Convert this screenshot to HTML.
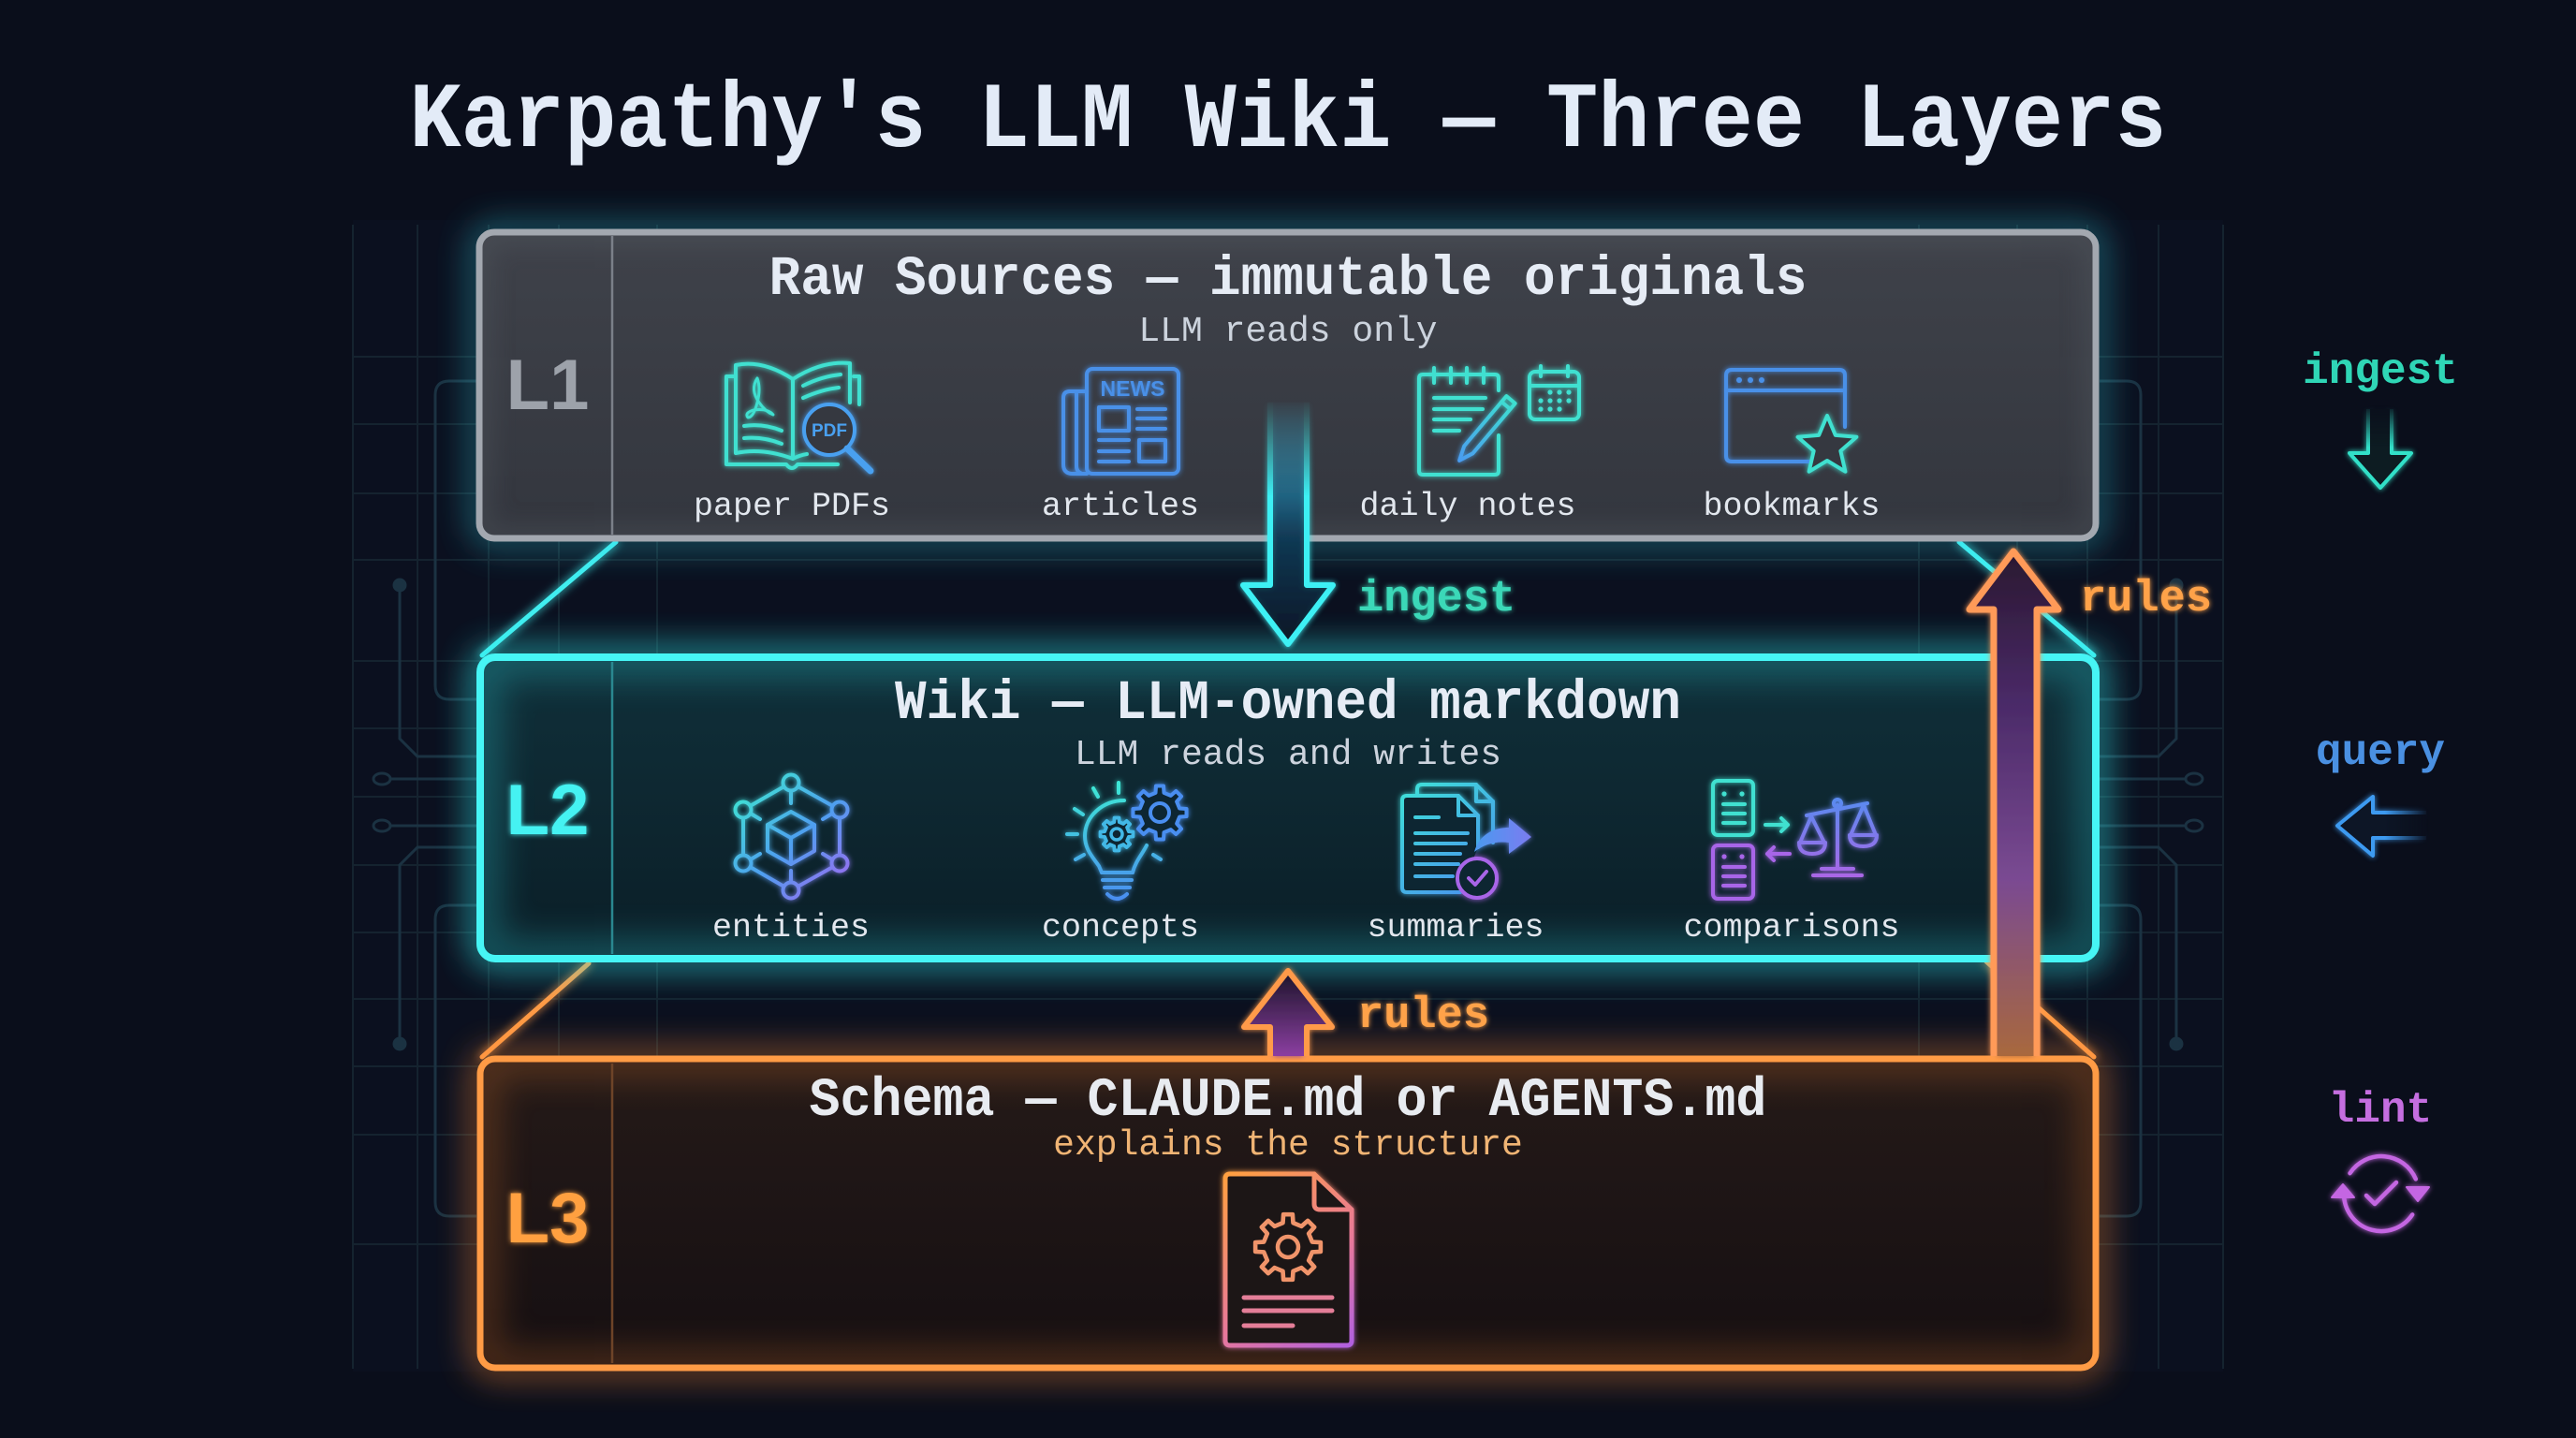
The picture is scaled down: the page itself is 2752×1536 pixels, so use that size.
<!DOCTYPE html>
<html><head><meta charset="utf-8">
<style>
html,body{margin:0;padding:0;background:#0a0e1b;}
svg{display:block}
</style></head><body>
<svg width="2752" height="1536" viewBox="0 0 2752 1536" xmlns="http://www.w3.org/2000/svg" xmlns:xlink="http://www.w3.org/1999/xlink">
<defs>
 <filter id="b12" filterUnits="userSpaceOnUse" x="0" y="0" width="2752" height="1536"><feGaussianBlur stdDeviation="12"/></filter>
 <filter id="b18" filterUnits="userSpaceOnUse" x="0" y="0" width="2752" height="1536"><feGaussianBlur stdDeviation="18"/></filter>
 <filter id="glow" filterUnits="userSpaceOnUse" x="0" y="0" width="2752" height="1536"><feGaussianBlur in="SourceGraphic" stdDeviation="5" result="b"/><feMerge><feMergeNode in="b"/><feMergeNode in="SourceGraphic"/></feMerge></filter>
 <filter id="glowS" filterUnits="userSpaceOnUse" x="0" y="0" width="2752" height="1536"><feGaussianBlur in="SourceGraphic" stdDeviation="3" result="b"/><feMerge><feMergeNode in="b"/><feMergeNode in="SourceGraphic"/></feMerge></filter>

 <linearGradient id="fL1" x1="0" y1="0" x2="0" y2="1"><stop offset="0" stop-color="#3f424a"/><stop offset="1" stop-color="#33363e"/></linearGradient>
 <linearGradient id="fL2" x1="0" y1="0" x2="0" y2="1"><stop offset="0" stop-color="#10303a"/><stop offset="1" stop-color="#0b1e27"/></linearGradient>
 <linearGradient id="fL3" x1="0" y1="0" x2="0" y2="1"><stop offset="0" stop-color="#251a18"/><stop offset="1" stop-color="#150f12"/></linearGradient>

 <clipPath id="c1"><rect x="512" y="248" width="1727" height="327" rx="16"/></clipPath>
 <clipPath id="c2"><rect x="513" y="702" width="1726" height="322" rx="16"/></clipPath>
 <clipPath id="c3"><rect x="513" y="1131" width="1726" height="330" rx="16"/></clipPath>

 <linearGradient id="gE" gradientUnits="userSpaceOnUse" x1="790" y1="836" x2="900" y2="951"><stop offset="0" stop-color="#3ee6d0"/><stop offset="0.55" stop-color="#4f9ef0"/><stop offset="1" stop-color="#9b6cf0"/></linearGradient>
 <linearGradient id="gC" gradientUnits="userSpaceOnUse" x1="0" y1="840" x2="0" y2="960"><stop offset="0" stop-color="#3ee6d6"/><stop offset="1" stop-color="#4a8ef0"/></linearGradient>
 <linearGradient id="gS" gradientUnits="userSpaceOnUse" x1="1500" y1="840" x2="1600" y2="955"><stop offset="0" stop-color="#3ee0d8"/><stop offset="1" stop-color="#4a8af0"/></linearGradient>
 <linearGradient id="gArr" gradientUnits="userSpaceOnUse" x1="1575" y1="0" x2="1635" y2="0"><stop offset="0" stop-color="#4a9af0"/><stop offset="1" stop-color="#7a7cf0"/></linearGradient>
 <linearGradient id="gSc" gradientUnits="userSpaceOnUse" x1="0" y1="855" x2="0" y2="936"><stop offset="0" stop-color="#5a8af0"/><stop offset="1" stop-color="#aa66e6"/></linearGradient>
 <linearGradient id="gDoc" gradientUnits="userSpaceOnUse" x1="1309" y1="1254" x2="1444" y2="1437"><stop offset="0" stop-color="#ffa040"/><stop offset="0.6" stop-color="#e8789a"/><stop offset="1" stop-color="#b060e0"/></linearGradient>
 <linearGradient id="gPen" gradientUnits="userSpaceOnUse" x1="1614" y1="427" x2="1559" y2="492"><stop offset="0" stop-color="#3ee0d0"/><stop offset="1" stop-color="#4a9cf0"/></linearGradient>

 <linearGradient id="fIng" gradientUnits="userSpaceOnUse" x1="0" y1="430" x2="0" y2="690"><stop offset="0" stop-color="#3cc8f0" stop-opacity="0.55"/><stop offset="0.55" stop-color="#123a55" stop-opacity="0.9"/><stop offset="1" stop-color="#0a1424"/></linearGradient>
 <linearGradient id="fRs" gradientUnits="userSpaceOnUse" x1="0" y1="1037" x2="0" y2="1127"><stop offset="0" stop-color="#1a1428"/><stop offset="1" stop-color="#8a3ea0"/></linearGradient>
 <linearGradient id="fRb" gradientUnits="userSpaceOnUse" x1="0" y1="589" x2="0" y2="1127"><stop offset="0" stop-color="#2a1830"/><stop offset="0.3" stop-color="#4a2a68"/><stop offset="0.65" stop-color="#7a4a92"/><stop offset="1" stop-color="#a8683e"/></linearGradient>

 <linearGradient id="mgI" gradientUnits="userSpaceOnUse" x1="0" y1="425" x2="0" y2="530"><stop offset="0" stop-color="#000"/><stop offset="1" stop-color="#fff"/></linearGradient>
 <mask id="fadeI" maskUnits="userSpaceOnUse" x="0" y="0" width="2752" height="1536"><rect x="1290" y="400" width="180" height="320" fill="url(#mgI)"/></mask>
 <linearGradient id="mgL1" gradientUnits="userSpaceOnUse" x1="0" y1="432" x2="0" y2="478"><stop offset="0" stop-color="#000"/><stop offset="1" stop-color="#fff"/></linearGradient>
 <mask id="fadeL1" maskUnits="userSpaceOnUse" x="0" y="0" width="2752" height="1536"><rect x="2480" y="420" width="120" height="120" fill="url(#mgL1)"/></mask>
 <linearGradient id="mgL2" gradientUnits="userSpaceOnUse" x1="2595" y1="0" x2="2548" y2="0"><stop offset="0" stop-color="#000"/><stop offset="1" stop-color="#fff"/></linearGradient>
 <mask id="fadeL2" maskUnits="userSpaceOnUse" x="0" y="0" width="2752" height="1536"><rect x="2480" y="830" width="130" height="100" fill="url(#mgL2)"/></mask>

 <path id="gear" d="M23.47,-4.99 L31.69,-4.45 L31.69,4.45 L23.47,4.99 L20.13,13.07 L25.56,19.26 L19.26,25.56 L13.07,20.13 L4.99,23.47 L4.45,31.69 L-4.45,31.69 L-4.99,23.47 L-13.07,20.13 L-19.26,25.56 L-25.56,19.26 L-20.13,13.07 L-23.47,4.99 L-31.69,4.45 L-31.69,-4.45 L-23.47,-4.99 L-20.13,-13.07 L-25.56,-19.26 L-19.26,-25.56 L-13.07,-20.13 L-4.99,-23.47 L-4.45,-31.69 L4.45,-31.69 L4.99,-23.47 L13.07,-20.13 L19.26,-25.56 L25.56,-19.26 L20.13,-13.07 Z"/>

 <g id="circ" stroke="#1b3242" stroke-width="3" fill="none">
  <path d="M509,407 L480,407 Q465,407 465,422 L465,732 Q465,747 480,747 L509,747"/>
  <path d="M509,967 L480,967 Q465,967 465,982 L465,1284 Q465,1299 480,1299 L509,1299"/>
  <path d="M427,625 L427,789 L446,808 L509,808"/>
  <path d="M509,905 L446,905 L427,924 L427,1115"/>
  <path d="M417,832 L509,832"/>
  <path d="M417,882 L509,882"/>
  <ellipse cx="408" cy="832" rx="9" ry="6"/>
  <ellipse cx="408" cy="882" rx="9" ry="6"/>
  <circle cx="427" cy="625" r="6" fill="#1b3242"/>
  <circle cx="427" cy="1115" r="6" fill="#1b3242"/>
 </g>
</defs>

<!-- background -->
<rect x="0" y="0" width="2752" height="1536" fill="#0a0e1b"/>
<rect x="377" y="235" width="1998" height="1230" fill="#0d1322" opacity="0.55"/>

<!-- grid -->
<g stroke="#15232f" stroke-width="2">
 <line x1="377" y1="381" x2="2375" y2="381"/>
 <line x1="377" y1="453" x2="2375" y2="453"/>
 <line x1="377" y1="527" x2="2375" y2="527"/>
 <line x1="377" y1="598" x2="2375" y2="598"/>
 <line x1="377" y1="706" x2="2375" y2="706"/>
 <line x1="377" y1="778" x2="2375" y2="778"/>
 <line x1="377" y1="851" x2="2375" y2="851"/>
 <line x1="377" y1="924" x2="2375" y2="924"/>
 <line x1="377" y1="996" x2="2375" y2="996"/>
 <line x1="377" y1="1067" x2="2375" y2="1067"/>
 <line x1="377" y1="1139" x2="2375" y2="1139"/>
 <line x1="377" y1="1212" x2="2375" y2="1212"/>
 <line x1="377" y1="1329" x2="2375" y2="1329"/>
 <line x1="377" y1="240" x2="377" y2="1462"/>
 <line x1="446" y1="240" x2="446" y2="1462"/>
 <line x1="522" y1="240" x2="522" y2="1462"/>
 <line x1="597" y1="240" x2="597" y2="1462"/>
 <line x1="702" y1="240" x2="702" y2="1462"/>
 <line x1="2050" y1="240" x2="2050" y2="1462"/>
 <line x1="2155" y1="240" x2="2155" y2="1462"/>
 <line x1="2230" y1="240" x2="2230" y2="1462"/>
 <line x1="2306" y1="240" x2="2306" y2="1462"/>
 <line x1="2375" y1="240" x2="2375" y2="1462"/>
</g>
<use xlink:href="#circ" href="#circ"/>
<use xlink:href="#circ" href="#circ" transform="translate(2752,0) scale(-1,1)"/>

<!-- trapezoid side lines -->
<g stroke-width="5" stroke-linecap="round" filter="url(#glow)">
 <line x1="658" y1="579" x2="515" y2="700" stroke="#40eef0"/>
 <line x1="2093" y1="579" x2="2237" y2="700" stroke="#40eef0"/>
 <line x1="629" y1="1029" x2="515" y2="1129" stroke="#ff9a45"/>
 <line x1="2122" y1="1027" x2="2237" y2="1129" stroke="#ff9a45"/>
</g>

<!-- L3 box -->
<rect x="513" y="1131" width="1726" height="330" rx="16" fill="none" stroke="#ff8a30" stroke-width="14" filter="url(#b18)" opacity="0.8"/>
<rect x="513" y="1131" width="1726" height="330" rx="16" fill="url(#fL3)"/>
<g clip-path="url(#c3)"><rect x="513" y="1131" width="1726" height="330" rx="16" fill="none" stroke="#ff8a30" stroke-width="40" opacity="0.22" filter="url(#b18)"/></g>
<line x1="654" y1="1136" x2="654" y2="1456" stroke="#6e4428" stroke-width="2.5"/>
<rect x="513" y="1131" width="1726" height="330" rx="16" fill="none" stroke="#ff9b45" stroke-width="7"/>

<!-- L2 box -->
<rect x="513" y="702" width="1726" height="322" rx="16" fill="none" stroke="#30f0f0" stroke-width="16" filter="url(#b18)" opacity="0.9"/>
<rect x="513" y="702" width="1726" height="322" rx="16" fill="url(#fL2)"/>
<g clip-path="url(#c2)"><rect x="513" y="702" width="1726" height="322" rx="16" fill="none" stroke="#30e8f0" stroke-width="44" opacity="0.25" filter="url(#b18)"/></g>
<line x1="654" y1="707" x2="654" y2="1019" stroke="#2a8890" stroke-width="2.5"/>
<rect x="513" y="702" width="1726" height="322" rx="16" fill="none" stroke="#46f5f5" stroke-width="8"/>

<!-- L1 box -->
<rect x="512" y="248" width="1727" height="327" rx="16" fill="none" stroke="#30d8e8" stroke-width="12" filter="url(#b18)" opacity="0.75"/>
<rect x="512" y="248" width="1727" height="327" rx="16" fill="url(#fL1)"/>
<g clip-path="url(#c1)"><rect x="512" y="248" width="1727" height="327" rx="16" fill="none" stroke="#5a6068" stroke-width="30" opacity="0.3" filter="url(#b12)"/></g>
<line x1="654" y1="252" x2="654" y2="571" stroke="#7b8089" stroke-width="2.5"/>
<rect x="512" y="248" width="1727" height="327" rx="16" fill="none" stroke="#a3a8b0" stroke-width="7"/>

<!-- Title -->
<g transform="translate(0,156) scale(1,1.08) translate(0,-156)">
<text x="1376" y="156" font-family="'Liberation Mono', 'DejaVu Sans Mono', monospace" font-size="92" font-weight="700" fill="#e3ebf7" text-anchor="middle">Karpathy's LLM Wiki — Three Layers</text>
</g>

<!-- Layer labels -->
<g font-family="'Liberation Sans', sans-serif" font-weight="700" font-size="76" text-anchor="middle">
 <text x="585" y="437" fill="#9da2aa">L1</text>
 <text x="585" y="891" fill="#44f2f2" filter="url(#glowS)">L2</text>
 <text x="585" y="1327" fill="#ffa040" filter="url(#glowS)">L3</text>
</g>

<!-- Headings -->
<g font-family="'Liberation Mono', 'DejaVu Sans Mono', monospace" text-anchor="middle">
 <g transform="translate(0,314) scale(1,1.06) translate(0,-314)"><text x="1376" y="314" font-size="56" font-weight="700" fill="#e6ecf5">Raw Sources — immutable originals</text></g>
 <text x="1376" y="364" font-size="38" fill="#ccd3dd">LLM reads only</text>
 <g transform="translate(0,767) scale(1,1.06) translate(0,-767)"><text x="1376" y="767" font-size="56" font-weight="700" fill="#e6ecf5">Wiki — LLM-owned markdown</text></g>
 <text x="1376" y="816" font-size="38" fill="#ccd3dd">LLM reads and writes</text>
 <g transform="translate(0,1191) scale(1,1.06) translate(0,-1191)"><text x="1376" y="1191" font-size="55" font-weight="700" fill="#e8ebf0">Schema — CLAUDE.md or AGENTS.md</text></g>
 <text x="1376" y="1233" font-size="38" fill="#f0b474">explains the structure</text>
 <g font-size="35" fill="#e2e7ee">
  <text x="846" y="550">paper PDFs</text>
  <text x="1197" y="550">articles</text>
  <text x="1568" y="550">daily notes</text>
  <text x="1914" y="550">bookmarks</text>
  <text x="845" y="1000">entities</text>
  <text x="1197" y="1000">concepts</text>
  <text x="1555" y="1000">summaries</text>
  <text x="1914" y="1000">comparisons</text>
 </g>
</g>

<!-- L1 icons -->
<g fill="none" stroke-width="4" stroke-linecap="round" stroke-linejoin="round" filter="url(#glowS)">
 <!-- paper PDFs -->
 <g stroke="#3fe0d0">
  <path d="M784,402 L776,402 L776,496 L840,496 Q846,504 852,496 L895,496"/>
  <path d="M912,402 L918,402 L918,432"/>
  <path d="M786,390 Q815,384 847,405 L847,490 Q815,478 786,484 Z"/>
  <path d="M847,405 Q878,385 908,388 L908,430"/>
  <path d="M847,490 Q855,486 862,485"/>
  <path d="M858,412 Q878,402 898,400"/>
  <path d="M858,425 Q878,416 896,414"/>
  <path d="M795,455 Q815,452 835,460"/>
  <path d="M795,468 Q815,466 835,474"/>
  <path d="M809,404 Q801,416 811,430 Q818,440 826,443 Q820,436 805,438 Q795,441 799,446 Q805,446 809,430 Q813,415 809,404" stroke-width="3"/>
 </g>
 <g stroke="#4aa0f0">
  <circle cx="886" cy="459" r="27" fill="#363940"/>
  <line x1="905" y1="479" x2="930" y2="503" stroke-width="7"/>
 </g>
 <text x="886" y="466" font-family="'Liberation Sans', sans-serif" font-weight="700" font-size="19" fill="#4aa0f0" stroke="none" text-anchor="middle">PDF</text>
 <!-- articles -->
 <g stroke="#4a90e8">
  <rect x="1161" y="394" width="98" height="112" rx="6"/>
  <path d="M1161,418 L1143,418 Q1136,418 1136,425 L1136,496 Q1136,506 1146,506 L1161,506"/>
  <path d="M1150,418 L1150,498 Q1150,504 1156,506"/>
  <rect x="1174" y="435" width="32" height="25"/>
  <path d="M1215,437 L1245,437 M1215,447 L1245,447 M1215,458 L1245,458 M1174,470 L1206,470 M1174,482 L1206,482 M1174,493 L1206,493"/>
  <rect x="1217" y="470" width="28" height="23"/>
 </g>
 <text x="1210" y="423" font-family="'Liberation Sans', sans-serif" font-weight="700" font-size="23" fill="#4a90e8" stroke="none" text-anchor="middle">NEWS</text>
 <!-- daily notes -->
 <g stroke="#3fe0d0">
  <path d="M1601,465 L1601,503 Q1601,507 1597,507 L1520,507 Q1516,507 1516,503 L1516,404 Q1516,400 1520,400 L1597,400 Q1601,400 1601,404 L1601,417"/>
  <path d="M1532,393 L1532,409 M1550,393 L1550,409 M1567,393 L1567,409 M1585,393 L1585,409"/>
  <path d="M1532,425 L1587,425 M1532,437 L1584,437 M1532,448 L1571,448 M1532,460 L1559,460"/>
  <rect x="1634" y="397" width="53" height="51" rx="6"/>
  <path d="M1634,412 L1687,412 M1646,391 L1646,402 M1675,391 L1675,402"/>
 </g>
 <g fill="#3fe0d0" stroke="none">
  <circle cx="1656" cy="419" r="2.6"/><circle cx="1666" cy="419" r="2.6"/><circle cx="1676" cy="419" r="2.6"/>
  <circle cx="1646" cy="428" r="2.6"/><circle cx="1656" cy="428" r="2.6"/><circle cx="1666" cy="428" r="2.6"/><circle cx="1676" cy="428" r="2.6"/>
  <circle cx="1646" cy="437" r="2.6"/><circle cx="1656" cy="437" r="2.6"/><circle cx="1666" cy="437" r="2.6"/>
 </g>
 <g stroke="url(#gPen)">
  <path d="M1609.4,423.1 L1618.6,430.9 L1573.4,484.3 L1559.1,491.9 L1564.2,476.5 Z"/>
  <path d="M1604.2,429.2 L1613.4,437"/>
 </g>
 <!-- bookmarks -->
 <g stroke="#4a90e8">
  <path d="M1938,493 L1850,493 Q1844,493 1844,487 L1844,401 Q1844,395 1850,395 L1965,395 Q1971,395 1971,401 L1971,456"/>
  <path d="M1844,417 L1971,417"/>
 </g>
 <g fill="#4a90e8" stroke="none"><circle cx="1858" cy="406" r="3"/><circle cx="1870" cy="406" r="3"/><circle cx="1882" cy="406" r="3"/></g>
 <path d="M1952,444 L1960.8,464.9 L1983.4,466.8 L1966.3,481.6 L1971.4,503.7 L1952,492 L1932.6,503.7 L1937.7,481.6 L1920.6,466.8 L1943.2,464.9 Z" stroke="#3fe0d0" fill="#363940"/>
</g>

<!-- L2 icons -->
<g fill="none" stroke-width="4" stroke-linecap="round" stroke-linejoin="round" filter="url(#glowS)">
 <!-- entities -->
 <g stroke="url(#gE)">
  <circle cx="845" cy="836" r="8.5"/><circle cx="794" cy="865" r="8.5"/><circle cx="897" cy="865" r="8.5"/>
  <circle cx="794" cy="922" r="8.5"/><circle cx="897" cy="922" r="8.5"/><circle cx="845" cy="951" r="8.5"/>
  <path d="M836,841 L803,860 M854,841 L888,860 M794,875 L794,912 M897,875 L897,912 M803,927 L836,946 M888,927 L854,946"/>
  <path d="M845,845 L845,858 M802,869 L812,875 M889,869 L879,875 M802,918 L812,912 M889,918 L879,912 M845,942 L845,930"/>
  <path d="M845,867 L870,881 L870,909 L845,923 L820,909 L820,881 Z"/>
  <path d="M820,881 L845,895 L870,881 M845,895 L845,923"/>
 </g>
 <!-- concepts -->
 <g stroke="url(#gC)">
  <path d="M1201,855 C1178,855 1159,872 1159,893 C1159,907 1167,915 1174,925 L1177,932"/>
  <path d="M1225,903 C1220,913 1213,920 1210,932"/>
  <path d="M1177,932 L1210,932 M1178,940 L1209,940 M1180,948 L1207,948 M1183,955 Q1193,965 1204,955"/>
  <path d="M1140,891 L1151,891 M1148,864 L1157,870 M1168,842 L1173,851 M1195,836 L1195,847 M1149,918 L1158,913 M1232,913 L1240,918"/>
 </g>
 <use xlink:href="#gear" href="#gear" transform="translate(1239,868) scale(0.9)" fill="#0e2630" stroke="#4a8ef0" stroke-width="4.5"/>
 <circle cx="1239" cy="868" r="10" stroke="#4a8ef0"/>
 <use xlink:href="#gear" href="#gear" transform="translate(1193,891) scale(0.55)" fill="#0e2630" stroke="#42b8e6" stroke-width="7"/>
 <circle cx="1193" cy="891" r="6" stroke="#42b8e6" stroke-width="3.5"/>
 <!-- summaries -->
 <g stroke="url(#gS)">
  <path d="M1514,850 L1514,843 Q1514,838 1519,838 L1577,838 L1595,856 L1595,900"/>
  <path d="M1577,838 L1577,856 L1595,856"/>
  <path d="M1560,953 L1503,953 Q1498,953 1498,948 L1498,855 Q1498,850 1503,850 L1558,850 L1579,871 L1579,905" fill="#0e2630"/>
  <path d="M1558,850 L1558,871 L1579,871"/>
  <path d="M1512,873 L1537,873 M1512,890 L1568,890 M1512,901 L1566,901 M1512,912 L1560,912 M1512,923 L1558,923 M1512,936 L1552,936"/>
 </g>
 <path d="M1575,910 C1580,892 1595,884 1612,884 L1612,874 L1636,894 L1612,912 L1612,900 C1598,898 1585,902 1575,910 Z" fill="url(#gArr)" stroke="none"/>
 <circle cx="1578" cy="938" r="21" stroke="#a865e8" fill="#0e2630"/>
 <path d="M1569,938 L1576,945 L1588,931" stroke="#a865e8"/>
 <!-- comparisons -->
 <g stroke="#3fe0d0">
  <rect x="1830" y="834" width="43" height="58" rx="5"/>
  <path d="M1841,859 L1864,859 M1841,869 L1864,869 M1841,879 L1864,879"/>
  <path d="M1886,881 L1910,881 M1903,874 L1910,881 L1903,888"/>
 </g>
 <g fill="#3fe0d0" stroke="none"><circle cx="1842" cy="848" r="2.6"/><circle cx="1861" cy="848" r="2.6"/></g>
 <g stroke="#a865e8">
  <rect x="1830" y="903" width="43" height="57" rx="5"/>
  <path d="M1841,926 L1864,926 M1841,936 L1864,936 M1841,946 L1864,946"/>
  <path d="M1912,912 L1888,912 M1895,905 L1888,912 L1895,919"/>
 </g>
 <g fill="#a865e8" stroke="none"><circle cx="1842" cy="915" r="2.6"/><circle cx="1861" cy="915" r="2.6"/></g>
 <g stroke="url(#gSc)">
  <path d="M1963,860 L1963,928 M1946,928 L1980,928 M1937,935 L1989,935 M1930,871 L1995,858"/>
  <circle cx="1963" cy="858" r="4"/>
  <path d="M1935,872 L1923,900 M1935,872 L1949,900 M1922,900 L1950,900 Q1950,912 1936,912 Q1922,912 1922,900 Z"/>
  <path d="M1991,860 L1977,892 M1991,860 L2004,892 M1976,892 L2005,892 Q2005,904 1990.5,904 Q1976,904 1976,892 Z"/>
 </g>
</g>

<!-- L3 doc icon -->
<g fill="none" stroke-linecap="round" stroke-linejoin="round" filter="url(#glowS)">
 <path d="M1404,1254 L1314,1254 Q1309,1254 1309,1259 L1309,1432 Q1309,1437 1314,1437 L1439,1437 Q1444,1437 1444,1432 L1444,1292 Z" stroke="url(#gDoc)" stroke-width="5" fill="#1c1418"/>
 <path d="M1404,1254 L1404,1286 Q1404,1292 1410,1292 L1444,1292" stroke="url(#gDoc)" stroke-width="5"/>
 <use xlink:href="#gear" href="#gear" transform="translate(1376,1332) scale(1.1)" stroke="#f0946a" stroke-width="4.2"/>
 <circle cx="1376" cy="1332" r="11" stroke="#f0946a" stroke-width="4.5"/>
 <path d="M1329,1386 L1423,1386 M1329,1400 L1423,1400 M1329,1416 L1381,1416" stroke="#e47e98" stroke-width="5"/>
</g>

<!-- Center ingest arrow -->
<g mask="url(#fadeI)" filter="url(#glowS)">
 <path d="M1357,430 L1357,625 L1328,625 L1376,688 L1424,625 L1396,625 L1396,430" fill="url(#fIng)" stroke="#3ef0f4" stroke-width="6" stroke-linejoin="round"/>
</g>
<text x="1450" y="652" font-family="'Liberation Mono', monospace" font-weight="700" font-size="47" fill="#3ad8b8" filter="url(#glowS)">ingest</text>

<!-- small rules arrow -->
<path d="M1357,1128 L1357,1097 L1329,1097 L1376,1037 L1423,1097 L1396,1097 L1396,1128" fill="url(#fRs)" stroke="#ff9a4a" stroke-width="6" stroke-linejoin="round" filter="url(#glowS)"/>
<text x="1450" y="1097" font-family="'Liberation Mono', monospace" font-weight="700" font-size="47" fill="#ffa24a" filter="url(#glowS)">rules</text>

<!-- big rules arrow -->
<path d="M2130,1128 L2130,651 L2104,651 L2151,589 L2199,651 L2176,651 L2176,1128" fill="url(#fRb)" stroke="#ff9a58" stroke-width="7" stroke-linejoin="round" filter="url(#glowS)"/>
<text x="2222" y="652" font-family="'Liberation Mono', monospace" font-weight="700" font-size="47" fill="#ffa24a" filter="url(#glowS)">rules</text>

<!-- Legend -->
<g font-family="'Liberation Mono', monospace" font-weight="700" font-size="46" text-anchor="middle">
 <text x="2543" y="409" fill="#2fd6b6">ingest</text>
 <text x="2543" y="816" fill="#4a90e2">query</text>
 <text x="2543" y="1198" fill="#c56ee0">lint</text>
</g>
<g mask="url(#fadeL1)" filter="url(#glowS)">
 <path d="M2530,437 L2530,484 L2510,484 L2543,521 L2576,484 L2555,484 L2555,437" fill="#0c1a24" stroke="#30e0c8" stroke-width="4" stroke-linejoin="round"/>
</g>
<g mask="url(#fadeL2)" filter="url(#glowS)">
 <path d="M2592,868 L2535,868 L2535,851 L2497,882 L2535,914 L2535,895 L2592,895" fill="#0c1628" stroke="#3d9af0" stroke-width="4" stroke-linejoin="round"/>
</g>
<g fill="none" stroke="#c466e2" stroke-width="4.5" stroke-linecap="round" stroke-linejoin="round" filter="url(#glowS)">
 <path d="M2510.5,1253.2 A40,40 0 0 1 2580.8,1259.4"/>
 <path d="M2577.2,1297.4 A40,40 0 0 1 2504.1,1277.8"/>
 <path d="M2528,1277 L2537,1286 L2560,1263"/>
 <polygon points="2571,1268 2595,1268 2583,1283" fill="#c466e2" stroke-width="2"/>
 <polygon points="2491,1279 2515,1279 2503,1265" fill="#c466e2" stroke-width="2"/>
</g>
</svg>
</body></html>
